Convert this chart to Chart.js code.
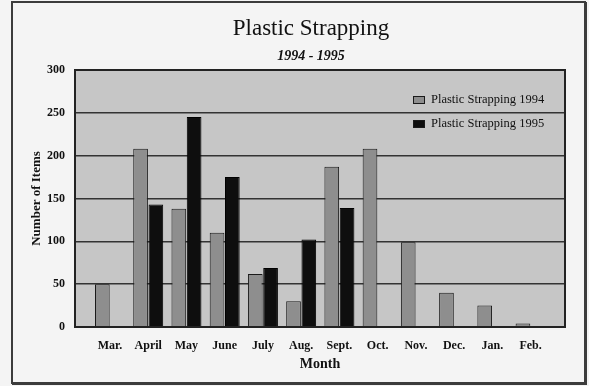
<!DOCTYPE html>
<html>
<head>
<meta charset="utf-8">
<script src="https://cdn.jsdelivr.net/npm/chart.js@4/dist/chart.umd.min.js"></script>
<style>
  html, body { margin: 0; padding: 0; background: #f4f4f4; }
  canvas { display: block; }
</style>
</head>
<body>
<canvas id="chart" width="589" height="386"></canvas>
<script>
// Monthly counts of plastic strapping items, March through February
const months = ['Mar.', 'April', 'May', 'June', 'July', 'Aug.', 'Sept.', 'Oct.', 'Nov.', 'Dec.', 'Jan.', 'Feb.'];
const strapping1994 = [50, 208, 138, 110, 62, 30, 187, 208, 99, 40, 25, 4];
const strapping1995 = [null, 143, 245, 175, 69, 102, 139, null, null, null, null, null];
const seriesNames = ['Plastic Strapping 1994', 'Plastic Strapping 1995'];
const yAxisMax = 300;
const yAxisStep = 50;
const chartTitle = 'Plastic Strapping';
const chartSubtitle = '1994 - 1995';
const xAxisTitle = 'Month';
const yAxisTitle = 'Number of Items';

const SERIF = "'Liberation Serif', 'DejaVu Serif', serif";
const INK = '#111111';
const PAD = { top: 70, right: 24, bottom: 0, left: 20 };

const toPoints = (arr) => arr.map((v, i) => ({ x: i, y: v }));

// Page background, plot background and the outer frame
const backdrop = {
  id: 'backdrop',
  beforeDraw(chart) {
    const { ctx, chartArea: a, width, height } = chart;
    ctx.save();
    ctx.fillStyle = '#f4f4f4';
    ctx.fillRect(0, 0, width, height);
    ctx.fillStyle = '#c6c6c6';
    ctx.fillRect(a.left, a.top, a.right - a.left, a.bottom - a.top);
    ctx.strokeStyle = '#3c3c3c';
    ctx.lineWidth = 2;
    ctx.strokeRect(12, 2, 573, 381);
    ctx.beginPath();
    ctx.moveTo(12, 384); ctx.lineTo(586, 384); ctx.lineTo(586, 2);
    ctx.stroke();
    ctx.restore();
  },
  afterDatasetsDraw(chart) {
    const { ctx, chartArea: a } = chart;
    ctx.save();
    ctx.strokeStyle = '#222222';
    ctx.lineWidth = 2;
    ctx.strokeRect(a.left, a.top, a.right - a.left, a.bottom - a.top);
    ctx.restore();
  }
};

// Title block centred above the plot
const headings = {
  id: 'headings',
  afterDraw(chart) {
    const { ctx } = chart;
    ctx.save();
    ctx.fillStyle = INK;
    ctx.textAlign = 'center';
    ctx.textBaseline = 'alphabetic';
    ctx.font = `23px ${SERIF}`;
    ctx.fillText(chartTitle, 311, 35);
    ctx.font = `italic bold 14px ${SERIF}`;
    ctx.fillText(chartSubtitle, 311, 60);
    ctx.restore();
  }
};

// Legend drawn inside the plot, upper right
const insideLegend = {
  id: 'insideLegend',
  afterDatasetsDraw(chart) {
    const { ctx, chartArea: a } = chart;
    ctx.save();
    ctx.font = `12.5px ${SERIF}`;
    ctx.textBaseline = 'middle';
    ctx.textAlign = 'left';
    chart.data.datasets.forEach((ds, i) => {
      const cy = a.top + 30 + i * 24;
      const bx = a.right - 152;
      ctx.fillStyle = ds.backgroundColor;
      ctx.fillRect(bx, cy - 4, 12, 8);
      ctx.strokeStyle = '#1a1a1a';
      ctx.lineWidth = 1;
      ctx.strokeRect(bx + 0.5, cy - 3.5, 11, 7);
      ctx.fillStyle = INK;
      ctx.fillText(ds.label, bx + 18, cy);
    });
    ctx.restore();
  }
};

new Chart(document.getElementById('chart'), {
  type: 'bar',
  data: {
    datasets: [
      {
        label: seriesNames[0],
        data: toPoints(strapping1994),
        backgroundColor: '#8e8e8e',
        borderColor: '#1a1a1a',
        borderWidth: 1
      },
      {
        label: seriesNames[1],
        data: toPoints(strapping1995),
        backgroundColor: '#0e0e0e',
        borderColor: '#000000',
        borderWidth: 1
      }
    ]
  },
  options: {
    responsive: false,
    animation: false,
    events: [],
    layout: { padding: PAD },
    categoryPercentage: 0.8,
    barPercentage: 0.96,
    plugins: {
      legend: { display: false },
      title: { display: false },
      tooltip: { enabled: false }
    },
    scales: {
      x: {
        type: 'linear',
        min: -0.915,
        max: 11.9,
        offset: false,
        grid: { display: false, drawTicks: false },
        border: { display: true, color: '#222222', width: 2 },
        ticks: {
          stepSize: 1,
          includeBounds: false,
          autoSkip: false,
          maxRotation: 0,
          padding: 12,
          color: INK,
          font: { family: SERIF, size: 12, weight: 'bold' },
          callback: (v) => (Number.isInteger(v) && months[v] !== undefined ? months[v] : '')
        },
        title: {
          display: true,
          text: xAxisTitle,
          color: INK,
          font: { family: SERIF, size: 14, weight: 'bold' },
          padding: { top: 0, bottom: 13.6 }
        },
        afterFit(scale) { scale.height = 386 - 327 - PAD.bottom; }
      },
      y: {
        min: 0,
        max: yAxisMax,
        grid: { color: '#333333', lineWidth: 1.5, drawTicks: false },
        border: { display: true, color: '#222222', width: 2 },
        ticks: {
          stepSize: yAxisStep,
          padding: 10,
          color: INK,
          font: { family: SERIF, size: 12, weight: 'bold' }
        },
        title: {
          display: true,
          text: yAxisTitle,
          color: INK,
          font: { family: SERIF, size: 13, weight: 'bold' },
          padding: { top: 9, bottom: 0 }
        },
        afterFit(scale) { scale.width = 75 - PAD.left; }
      }
    }
  },
  plugins: [backdrop, headings, insideLegend]
});
</script>
</body>
</html>
